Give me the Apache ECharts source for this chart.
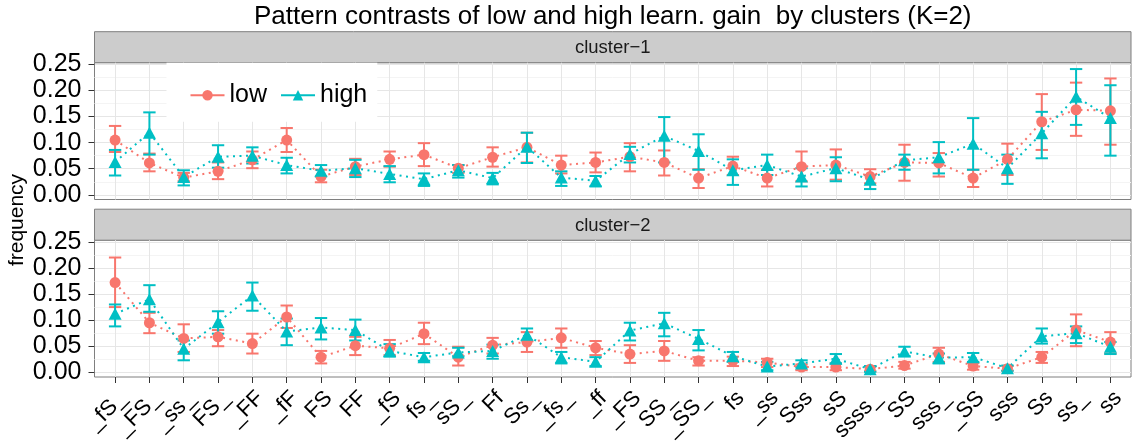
<!DOCTYPE html>
<html><head><meta charset="utf-8">
<script src="https://cdn.jsdelivr.net/npm/echarts@6/dist/echarts.min.js"></script>
<style>html,body{margin:0;padding:0;background:#fff}#c{width:1132px;height:445px}</style>
</head><body><div id="c"></div>
<script>
const FONT = '"Liberation Sans", Arial, Helvetica, sans-serif';
const chartTitle = 'Pattern contrasts of low and high learn. gain  by clusters (K=2)';
const yTitle = 'frequency';
const panelNames = ['cluster\u22121', 'cluster\u22122'];
const groups = ['low', 'high'];
const categories = ['_fS_','_FS_','_ss_','FS_','_FF','_fF','FS','FF','_fS','fs_','sS_','Ff','Ss_','_fs_','_ff','_FS','SS_','_SS_','fs','_ss','Sss','sS','ssss_','SS','sss_','_SS','sss','Ss','ss_','ss'];

// cluster-1
const c1LowMean  = [0.105,0.061,0.033,0.045,0.067,0.105,0.035,0.054,0.068,0.077,0.051,0.072,0.091,0.057,0.062,0.073,0.062,0.032,0.055,0.032,0.054,0.057,0.035,0.062,0.061,0.032,0.068,0.140,0.163,0.161];
const c1LowLo    = [0.082,0.045,0.026,0.030,0.051,0.082,0.024,0.038,0.054,0.055,0.042,0.054,0.062,0.041,0.043,0.045,0.037,0.013,0.038,0.016,0.026,0.029,0.022,0.027,0.035,0.015,0.038,0.086,0.113,0.096];
const c1LowHi    = [0.132,0.079,0.042,0.062,0.083,0.128,0.048,0.069,0.083,0.099,0.057,0.091,0.119,0.075,0.081,0.099,0.085,0.049,0.073,0.048,0.083,0.087,0.049,0.096,0.080,0.048,0.098,0.193,0.215,0.223];
const c1HighMean = [0.063,0.119,0.034,0.073,0.075,0.057,0.046,0.051,0.040,0.030,0.047,0.032,0.092,0.033,0.027,0.078,0.113,0.084,0.047,0.057,0.035,0.051,0.029,0.066,0.072,0.098,0.051,0.118,0.188,0.147];
const c1HighLo   = [0.037,0.077,0.018,0.052,0.060,0.041,0.035,0.034,0.024,0.017,0.033,0.020,0.061,0.017,0.016,0.062,0.062,0.048,0.019,0.038,0.016,0.026,0.011,0.048,0.041,0.048,0.021,0.070,0.134,0.075];
const c1HighHi   = [0.086,0.158,0.047,0.095,0.091,0.071,0.057,0.067,0.055,0.041,0.057,0.042,0.119,0.045,0.036,0.092,0.149,0.116,0.068,0.077,0.051,0.072,0.038,0.077,0.101,0.147,0.077,0.159,0.241,0.210];

// cluster-2
const c2LowMean  = [0.172,0.095,0.065,0.068,0.055,0.106,0.029,0.051,0.046,0.074,0.029,0.052,0.058,0.066,0.047,0.035,0.041,0.022,0.022,0.019,0.010,0.010,0.006,0.013,0.035,0.012,0.007,0.029,0.081,0.058];
const c2LowLo    = [0.125,0.075,0.039,0.050,0.036,0.085,0.017,0.033,0.033,0.054,0.013,0.036,0.039,0.047,0.033,0.018,0.022,0.013,0.012,0.010,0.004,0.004,0.002,0.007,0.020,0.005,0.003,0.018,0.050,0.036];
const c2LowHi    = [0.220,0.114,0.092,0.081,0.074,0.128,0.041,0.068,0.062,0.095,0.049,0.066,0.077,0.084,0.060,0.052,0.060,0.029,0.030,0.026,0.015,0.017,0.011,0.020,0.047,0.018,0.012,0.039,0.111,0.077];
const c2HighMean = [0.112,0.140,0.045,0.096,0.147,0.078,0.086,0.081,0.041,0.029,0.038,0.041,0.072,0.029,0.020,0.080,0.094,0.064,0.031,0.011,0.017,0.026,0.006,0.040,0.028,0.029,0.008,0.069,0.075,0.049];
const c2HighLo   = [0.088,0.116,0.023,0.074,0.118,0.052,0.063,0.061,0.030,0.022,0.031,0.026,0.061,0.017,0.012,0.061,0.069,0.042,0.020,0.004,0.010,0.017,0.001,0.031,0.017,0.020,0.003,0.055,0.056,0.035];
const c2HighHi   = [0.130,0.167,0.061,0.117,0.172,0.103,0.104,0.101,0.054,0.037,0.047,0.053,0.084,0.039,0.029,0.095,0.114,0.081,0.039,0.020,0.023,0.035,0.012,0.049,0.036,0.037,0.013,0.084,0.088,0.058];

const panels = [
  { low: {mean: c1LowMean, lo: c1LowLo, hi: c1LowHi}, high: {mean: c1HighMean, lo: c1HighLo, hi: c1HighHi} },
  { low: {mean: c2LowMean, lo: c2LowLo, hi: c2LowHi}, high: {mean: c2HighMean, lo: c2HighLo, hi: c2HighHi} }
];
const colors = { low: '#F8766D', high: '#00BFC4' };

// layout
const PL = 94.5, PW = 1036.5, PH = 136.8;
const PT = [62.7, 240.2];
const STRIP_H = 31;
const XMIN = -0.6, XMAX = categories.length - 1 + 0.6;
const YMIN = -0.009, YMAX = 0.2532, YTOP = 0.25;
const unitX = PW / (XMAX - XMIN);
const unitY = PH / (YMAX - YMIN);

function errRender(color) {
  return function (params, api) {
    const x = api.value(0), lo = api.value(1), hi = api.value(2);
    const a = api.coord([x, lo]), b = api.coord([x, hi]);
    const hw = api.size([1, 0])[0] * 0.18;
    const st = { stroke: color, lineWidth: 2, fill: null };
    return { type: 'group', children: [
      { type: 'line', shape: { x1: a[0], y1: a[1], x2: b[0], y2: b[1] }, style: st },
      { type: 'line', shape: { x1: a[0] - hw, y1: a[1], x2: a[0] + hw, y2: a[1] }, style: st },
      { type: 'line', shape: { x1: b[0] - hw, y1: b[1], x2: b[0] + hw, y2: b[1] }, style: st }
    ]};
  };
}

const grid = [], xAxis = [], yAxis = [], series = [], graphic = [];
panels.forEach((p, k) => {
  const top = PT[k];
  const gi = 3 * k;
  // data grid
  grid.push({ left: PL, top: top, width: PW, height: PH, show: true, borderColor: '#7f7f7f', borderWidth: 1, backgroundColor: 'transparent' });
  xAxis.push({ type: 'value', gridIndex: gi, min: XMIN, max: XMAX, show: false });
  yAxis.push({ type: 'value', gridIndex: gi, min: YMIN, max: YMAX, show: false });
  // x tick grid
  grid.push({ left: PL + (0 - XMIN) * unitX, top: top, width: (categories.length - 1) * unitX, height: PH });
  xAxis.push({ type: 'value', gridIndex: gi + 1, min: 0, max: categories.length - 1, interval: 1,
    axisLine: { show: false },
    axisTick: { show: k === 1, length: 6, lineStyle: { color: '#333', width: 1 } },
    axisLabel: { show: k === 1, rotate: 45, margin: 10, fontSize: 22, color: '#000', fontFamily: FONT,
      verticalAlign: 'top',
      formatter: v => categories[Math.round(v)] },
    splitLine: { show: true, lineStyle: { color: '#e6e6e6', width: 1 } } });
  yAxis.push({ type: 'value', gridIndex: gi + 1, min: 0, max: 1, show: false });
  // y tick grid
  grid.push({ left: PL, top: top + (YMAX - YTOP) * unitY, width: PW, height: YTOP * unitY });
  xAxis.push({ type: 'value', gridIndex: gi + 2, min: 0, max: 1, show: false });
  yAxis.push({ type: 'value', gridIndex: gi + 2, min: 0, max: YTOP, interval: 0.05,
    axisLine: { show: false },
    axisTick: { show: true, length: 6, lineStyle: { color: '#333', width: 1 } },
    axisLabel: { fontSize: 25, color: '#000', margin: 13, fontFamily: FONT, formatter: v => v.toFixed(2) },
    splitLine: { show: true, lineStyle: { color: '#e6e6e6', width: 1.2 } },
    minorTick: { show: false, splitNumber: 2 },
    minorSplitLine: { show: true, lineStyle: { color: '#f4f4f4', width: 1 } } });

  groups.forEach(g => {
    const d = p[g];
    series.push({ type: 'custom', name: g + ' error', xAxisIndex: gi, yAxisIndex: gi, z: 2, silent: true,
      renderItem: errRender(colors[g]), encode: { x: 0, y: [1, 2] },
      data: d.mean.map((m, i) => [i, d.lo[i], d.hi[i]]) });
  });
  groups.forEach(g => {
    const d = p[g];
    series.push({ type: 'line', name: g, xAxisIndex: gi, yAxisIndex: gi, z: 3,
      data: d.mean.map((m, i) => [i, m]),
      symbol: g === 'low' ? 'circle' : 'triangle',
      symbolSize: g === 'low' ? 11 : [13, 12],
      showAllSymbol: true,
      itemStyle: { color: colors[g], opacity: 1 },
      lineStyle: { color: colors[g], width: 2, type: [2, 4.5] } });
  });

  // strip
  const sy = top - STRIP_H;
  graphic.push({ type: 'rect', shape: { x: PL, y: sy, width: PW, height: STRIP_H },
    style: { fill: '#cccccc', stroke: '#7f7f7f', lineWidth: 1 } });
  graphic.push({ type: 'text', x: PL + PW / 2, y: sy + STRIP_H / 2 + 1,
    style: { text: panelNames[k], fill: '#1a1a1a', font: '18.5px ' + FONT, align: 'center', verticalAlign: 'middle', textAlign: 'center', textVerticalAlign: 'middle' } });
});

graphic.push({ type: 'text', x: PL + PW / 2, y: 17,
  style: { text: chartTitle, fill: '#000', font: '26px ' + FONT, align: 'center', verticalAlign: 'middle', textAlign: 'center', textVerticalAlign: 'middle' } });
graphic.push({ type: 'text', x: 17, y: 220, rotation: Math.PI / 2,
  style: { text: yTitle, fill: '#000', font: '21px ' + FONT, align: 'center', verticalAlign: 'middle', textAlign: 'center', textVerticalAlign: 'middle' } });

const chart = echarts.init(document.getElementById('c'), null, { renderer: 'canvas' });
chart.setOption({
  animation: false,
  textStyle: { fontFamily: FONT },
  grid, xAxis, yAxis, series, graphic,
  legend: { data: groups, left: 166.5, top: 62.7, orient: 'horizontal', padding: [20, 10, 14, 23],
    itemGap: 13, itemWidth: 34, itemHeight: 13, backgroundColor: '#fff', selectedMode: false,
    textStyle: { fontSize: 25, color: '#000', fontFamily: FONT },
    lineStyle: { type: 'solid', width: 2 } }
});
</script>
</body></html>
